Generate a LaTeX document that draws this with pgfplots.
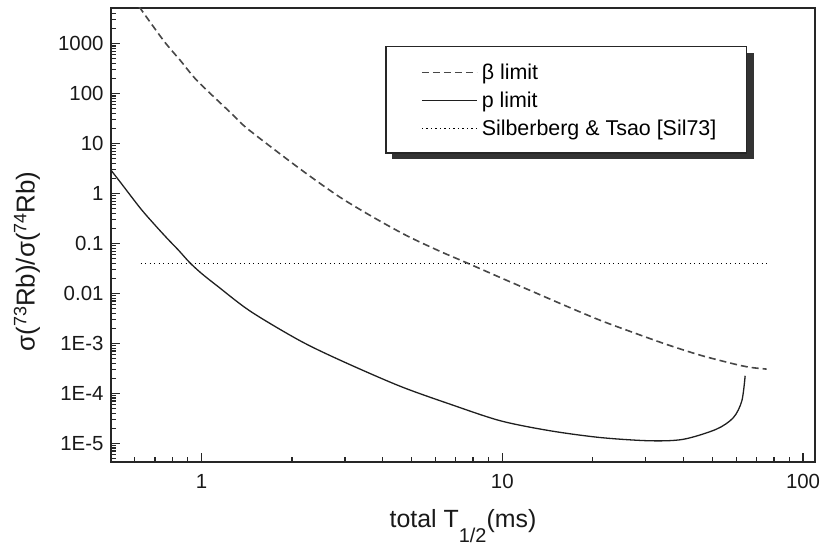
\documentclass[border=0pt]{standalone}
\usepackage{fontspec}
\setmainfont{Liberation Sans}
\usepackage{pgfplots}
\pgfplotsset{compat=1.18}
\begin{document}
\begin{tikzpicture}
\useasboundingbox (0,0) rectangle (822bp,546bp);
% legend frame with its shadow (drawn first; the legend entries go on top)
\fill[black!80] (392bp,386.5bp) rectangle (753.5bp,493bp);
\filldraw[fill=white, draw=black!85, line width=1.5bp] (386bp,393bp) rectangle (746.7bp,499.3bp);
\begin{axis}[
  at={(111bp,84.3bp)}, anchor=south west,
  scale only axis, width=704bp, height=453.7bp,
  xmode=log, ymode=log,
  xmin=0.5, xmax=109.6, ymin=4.27e-6, ymax=5176,
  xtick={1,10,100}, xticklabels={1,10,100},
  ytick={1e-5,1e-4,1e-3,0.01,0.1,1,10,100,1000},
  yticklabels={1E-5,1E-4,1E-3,0.01,0.1,1,10,100,1000},
  minor xtick={0.6,0.7,0.8,0.9,2,3,4,5,6,7,8,9,20,30,40,50,60,70,80,90},
  minor ytick={5e-6,6e-6,7e-6,8e-6,9e-6,
    2e-5,3e-5,4e-5,5e-5,6e-5,7e-5,8e-5,9e-5,
    2e-4,3e-4,4e-4,5e-4,6e-4,7e-4,8e-4,9e-4,
    2e-3,3e-3,4e-3,5e-3,6e-3,7e-3,8e-3,9e-3,
    0.02,0.03,0.04,0.05,0.06,0.07,0.08,0.09,
    0.2,0.3,0.4,0.5,0.6,0.7,0.8,0.9,
    2,3,4,5,6,7,8,9,
    20,30,40,50,60,70,80,90,
    200,300,400,500,600,700,800,900,
    2000,3000,4000,5000},
  tick pos=left, tick align=inside,
  major tick length=9bp, minor tick length=5bp,
  tick style={black!85, line width=1.3bp},
  axis line style={black!85, line width=2bp},
  /pgf/number format/assume math mode=true,
  tick label style={font=\fontsize{20.5}{20.5}\selectfont, text=black!90},
  xticklabel style={yshift=-9bp},
  yticklabel style={xshift=-4bp},
  xlabel={total T\raisebox{-15bp}{\fontsize{20}{20}\selectfont 1/2}(ms)},
  ylabel={σ(\raisebox{0.32em}{\fontsize{18}{18}\selectfont 73}Rb)/σ(\raisebox{0.32em}{\fontsize{18}{18}\selectfont 74}Rb)},
  every axis x label/.style={at={(axis description cs:0.5,-0.1461)}, anchor=base, font=\fontsize{25}{25}\selectfont, text=black!90},
  every axis y label/.style={at={(axis description cs:-0.1193,0.4413)}, anchor=center, rotate=90, font=\fontsize{26}{26}\selectfont, text=black!90},
  legend image code/.code={\draw[#1] (0bp,0bp) -- (55bp,0bp);},
  legend style={at={(axis description cs:0.3906,0.9147)}, anchor=north west,
    draw=none, fill=none,
    font=\fontsize{21.5}{21.5}\selectfont,
    inner xsep=35bp, inner ysep=14.5bp, row sep=5.5bp, column sep=4bp,
    nodes={inner sep=0bp, text height=18bp, text depth=4.5bp},
    cells={anchor=west}},
]
\addplot[line width=1.6bp, color=black!72, dash pattern=on 7bp off 4bp, smooth, tension=0.5] coordinates {
(0.620,5500) (0.749,1140) (0.852,454) (0.968,180) (1.248,41.7) (1.40,21.4)
(1.739,7.74) (2.245,2.44) (2.896,0.832) (3.736,0.331) (4.825,0.142)
(6.22,0.0692) (7.6,0.0412) (10,0.01995) (12.7,0.0107) (16.4,5.5e-3)
(21.2,2.88e-3) (27.3,1.64e-3) (35.2,9.5e-4) (45.5,5.8e-4) (58.7,3.89e-4)
(66.7,3.31e-4) (75.7,3.05e-4)};
\addlegendentry{β limit}
\addplot[line width=1.3bp, color=black!88, smooth, tension=0.5] coordinates {
(0.502,2.84) (0.538,1.66) (0.627,0.501) (0.700,0.234) (0.769,0.126)
(0.840,0.0724) (0.914,0.0412) (1.0,0.0251) (1.128,0.0141) (1.455,4.37e-3)
(2.13,1.12e-3) (2.97,4.27e-4) (4.58,1.38e-4) (6.72,6.03e-5) (9.85,2.82e-5)
(14.4,1.78e-5) (21.2,1.30e-5) (31.0,1.12e-5) (40.0,1.20e-5) (51.5,1.91e-5)
(58.7,3.27e-5) (62.6,7.08e-5) (64.2,2.24e-4)};
\addlegendentry{p limit}
\addplot[line width=1.2bp, color=black, dash pattern=on 1.3bp off 3.2bp] coordinates {
(0.627,0.04) (75.7,0.04)};
\addlegendentry{Silberberg \& Tsao [Sil73]}
\end{axis}
\end{tikzpicture}
\end{document}
